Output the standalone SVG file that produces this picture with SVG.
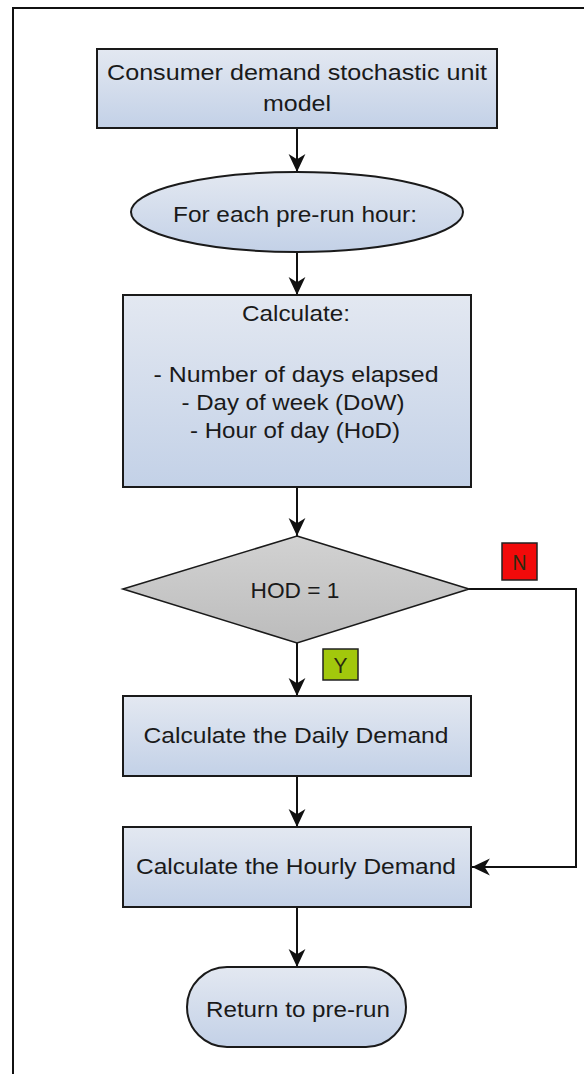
<svg xmlns="http://www.w3.org/2000/svg" width="584" height="1074" viewBox="0 0 584 1074">
  <defs>
    <linearGradient id="boxFill" x1="0" y1="0" x2="0" y2="1">
      <stop offset="0" stop-color="#e3e8f1"/>
      <stop offset="1" stop-color="#c3d1e7"/>
    </linearGradient>
    <linearGradient id="diamondFill" x1="0" y1="0" x2="0" y2="1">
      <stop offset="0" stop-color="#d2d2d2"/>
      <stop offset="1" stop-color="#bcbcbc"/>
    </linearGradient>
    <marker id="arrow" markerUnits="userSpaceOnUse" markerWidth="20" markerHeight="20" viewBox="-18 -9 19 18" refX="0" refY="0" orient="auto">
      <path d="M0 0 L-17 -8 L-12 0 L-17 8 Z" fill="#111"/>
    </marker>
    <style>
      .shape { fill: url(#boxFill); stroke: #1a1a1a; stroke-width: 2; }
      .decision { fill: url(#diamondFill); stroke: #1a1a1a; stroke-width: 1.6; }
      .label { font-family: "Liberation Sans", Arial, sans-serif; font-size: 22px; fill: #1a1a1a; text-anchor: middle; }
      .edge { fill: none; stroke: #111; stroke-width: 2; marker-end: url(#arrow); }
      .tag { stroke: #222; stroke-width: 1.5; }
      .tagtext { font-family: "Liberation Sans", Arial, sans-serif; font-size: 22px; fill: #2a2a10; text-anchor: middle; }
    </style>
  </defs>

  <rect x="0" y="0" width="584" height="1074" fill="#ffffff"/>

  <!-- outer frame: top and left edges only -->
  <path d="M13 1074 V8 H584" fill="none" stroke="#111" stroke-width="2"/>

  <g id="connectors">
    <line class="edge" x1="297" y1="128" x2="297" y2="172"/>
    <line class="edge" x1="297" y1="253" x2="297" y2="295"/>
    <line class="edge" x1="297" y1="487" x2="297" y2="536"/>
    <line class="edge" x1="297" y1="643" x2="297" y2="696"/>
    <line class="edge" x1="297" y1="776" x2="297" y2="827"/>
    <line class="edge" x1="297" y1="907" x2="297" y2="967"/>
    <path class="edge" d="M469 589 H576 V867 H472"/>
  </g>

  <g id="start">
    <rect class="shape" x="97" y="49" width="400" height="79"/>
    <text class="label" x="297" y="80" textLength="380" lengthAdjust="spacingAndGlyphs">Consumer demand stochastic unit</text>
    <text class="label" x="297" y="111" textLength="68" lengthAdjust="spacingAndGlyphs">model</text>
  </g>

  <g id="loop">
    <ellipse class="shape" cx="297" cy="212" rx="166" ry="40"/>
    <text class="label" x="295" y="222" textLength="244" lengthAdjust="spacingAndGlyphs">For each pre-run hour:</text>
  </g>

  <g id="calculate">
    <rect class="shape" x="123" y="295" width="348" height="192"/>
    <text class="label" x="296" y="321" textLength="108" lengthAdjust="spacingAndGlyphs">Calculate:</text>
    <text class="label" x="296" y="382" textLength="285" lengthAdjust="spacingAndGlyphs">- Number of days elapsed</text>
    <text class="label" x="293" y="410" textLength="223" lengthAdjust="spacingAndGlyphs">- Day of week (DoW)</text>
    <text class="label" x="295" y="438" textLength="210" lengthAdjust="spacingAndGlyphs">- Hour of day (HoD)</text>
  </g>

  <g id="decision">
    <polygon class="decision" points="297,536 469,589 297,643 123,589"/>
    <text class="label" x="295" y="598" textLength="89" lengthAdjust="spacingAndGlyphs">HOD = 1</text>
  </g>

  <g id="tag-no">
    <rect class="tag" x="502" y="543" width="35" height="37" fill="#f20a0a"/>
    <text class="tagtext" x="519.5" y="570" textLength="14" lengthAdjust="spacingAndGlyphs">N</text>
  </g>

  <g id="tag-yes">
    <rect class="tag" x="323" y="649" width="35" height="31" fill="#a2c80c"/>
    <text class="tagtext" x="340.5" y="673" textLength="14" lengthAdjust="spacingAndGlyphs">Y</text>
  </g>

  <g id="daily">
    <rect class="shape" x="123" y="696" width="348" height="80"/>
    <text class="label" x="296" y="743" textLength="305" lengthAdjust="spacingAndGlyphs">Calculate the Daily Demand</text>
  </g>

  <g id="hourly">
    <rect class="shape" x="123" y="827" width="348" height="80"/>
    <text class="label" x="296" y="874" textLength="320" lengthAdjust="spacingAndGlyphs">Calculate the Hourly Demand</text>
  </g>

  <g id="return">
    <rect class="shape" x="187" y="967" width="219" height="80" rx="40" ry="40"/>
    <text class="label" x="298" y="1017" textLength="184" lengthAdjust="spacingAndGlyphs">Return to pre-run</text>
  </g>
</svg>
